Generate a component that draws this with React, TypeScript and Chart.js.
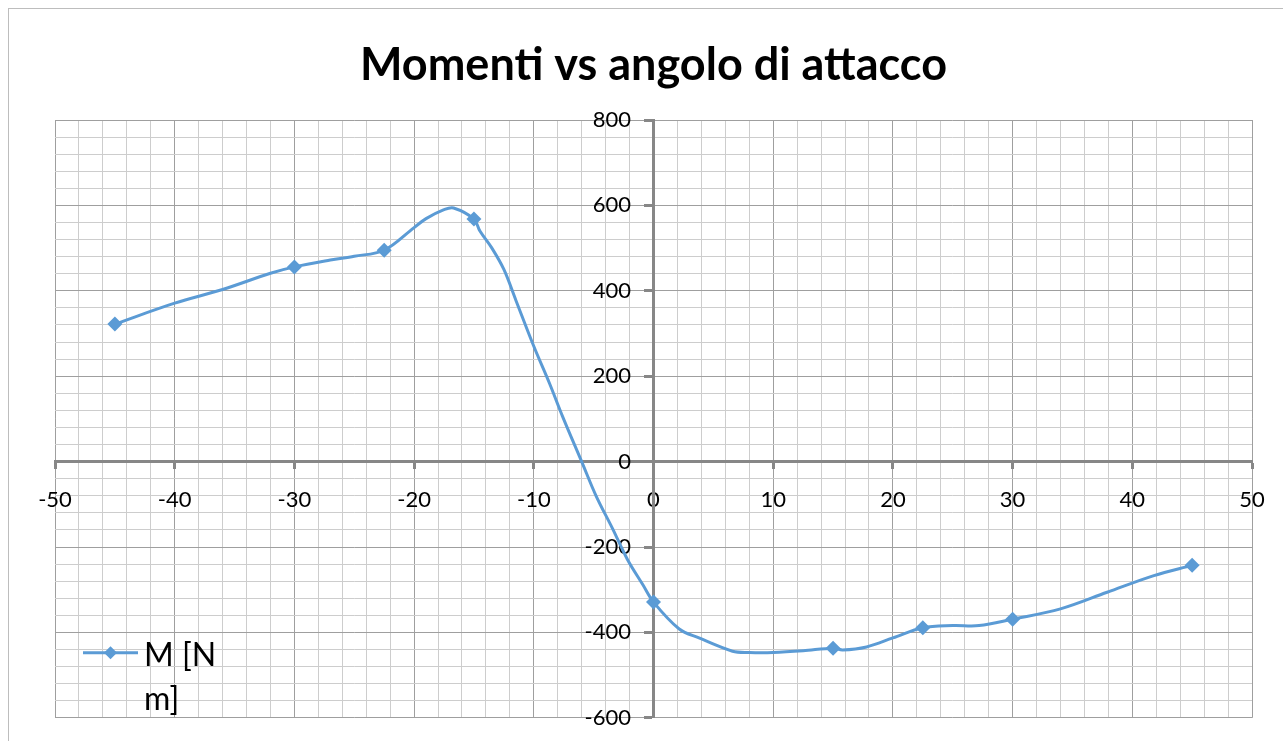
import React, { useEffect, useRef } from "react";
import { Chart, registerables } from "chart.js";

Chart.register(...registerables);

const TITLE = "Momenti vs angolo di attacco";
const SERIES_LABEL = "M [N m]";

// Marked data points (angle of attack [deg], moment [N m])
const markerAngles = [-45, -30, -22.5, -15, 0, 15, 22.5, 30, 45];
const markerMoments = [322, 456, 495, 568, -329, -437, -389, -369, -243];

// Unmarked points along the drawn curve
const curveAngles = [
  -40, -36, -32, -27, -25, -20, -19, -17.5, -16.7, -14.5, -13.5, -12.5, -11.5, -10, -8.7, -7.6,
  -6, -4.8, -3.4, -2.2, -0.9, 2.15, 3.8, 6.6, 8, 10, 12.5, 15.8, 17.8, 20, 25, 27.2, 34, 37.9, 41.8,
];
const curveMoments = [
  371, 403, 441, 472, 481, 548, 569, 590, 594, 540, 500, 450, 378, 270, 184, 106,
  0, -80, -158, -228, -288, -392, -413, -444, -447, -447, -443, -441, -434, -413, -384, -384, -345, -306, -267,
];

const xMin = -50;
const xMax = 50;
const xMajor = 10;
const xMinor = 2;
const yMin = -600;
const yMax = 800;
const yMajor = 200;
const yMinor = 40;

const FONT = "Lato, 'Open Sans', sans-serif";
const LINE_COLOR = "#5B9BD5";
const AXIS_COLOR = "#878787";
const MAJOR_GRID = "#9f9f9f";
const MINOR_GRID = "#cdcdcd";

const isMajor = (v: number, step: number) => Math.abs(v / step - Math.round(v / step)) < 1e-6;

const legendPlugin = {
  id: "wrapLegend",
  afterDatasetsDraw(chart: any) {
    const ctx: CanvasRenderingContext2D = chart.ctx;
    const area = chart.chartArea;
    const ds = chart.data.datasets[0];
    const lx0 = area.left + 28;
    const lx1 = area.left + 83;
    const ly = area.bottom - 65;
    ctx.save();
    ctx.strokeStyle = ds.borderColor;
    ctx.lineWidth = 3;
    ctx.beginPath();
    ctx.moveTo(lx0, ly);
    ctx.lineTo(lx1, ly);
    ctx.stroke();
    const mx = (lx0 + lx1) / 2;
    const r = 6.5;
    ctx.fillStyle = ds.backgroundColor;
    ctx.beginPath();
    ctx.moveTo(mx, ly - r);
    ctx.lineTo(mx + r, ly);
    ctx.lineTo(mx, ly + r);
    ctx.lineTo(mx - r, ly);
    ctx.closePath();
    ctx.fill();
    ctx.font = `32px ${FONT}`;
    ctx.fillStyle = "#000";
    ctx.textBaseline = "alphabetic";
    ctx.textAlign = "left";
    // wrap the label into the legend's width
    const words = String(ds.label).split(" ");
    const lines: string[] = [];
    let cur = "";
    for (const w of words) {
      const t = cur ? cur + " " + w : w;
      if (cur && ctx.measureText(t).width > 90) {
        lines.push(cur);
        cur = w;
      } else cur = t;
    }
    if (cur) lines.push(cur);
    const tx = lx1 + 6;
    let ty = ly + 13;
    for (const l of lines) {
      ctx.fillText(l, tx, ty);
      ty += 44;
    }
    ctx.restore();
  },
};

export default function App() {
  const ref = useRef<HTMLCanvasElement>(null);
  useEffect(() => {
    if (!ref.current) return;
    const pts = [
      ...markerAngles.map((x, i) => ({ x, y: markerMoments[i], m: true })),
      ...curveAngles.map((x, i) => ({ x, y: curveMoments[i], m: false })),
    ].sort((a, b) => a.x - b.x);
    const radii = pts.map((p) => (p.m ? 7.5 : 0));
    const chart = new Chart(ref.current, {
      type: "scatter",
      data: {
        datasets: [
          {
            label: SERIES_LABEL,
            data: pts.map((p) => ({ x: p.x, y: p.y })),
            showLine: true,
            borderColor: LINE_COLOR,
            backgroundColor: LINE_COLOR,
            borderWidth: 3,
            tension: 0.35,
            pointStyle: "rectRot",
            pointRadius: radii,
            pointHoverRadius: radii,
            pointBorderWidth: 0,
          } as any,
        ],
      },
      options: {
        responsive: false,
        animation: false,
        events: [],
        layout: { padding: { left: 46, right: 43, top: 0, bottom: 31 } },
        plugins: {
          legend: { display: false },
          tooltip: { enabled: false },
          title: {
            display: true,
            text: TITLE,
            color: "#000",
            font: { family: FONT, size: 45, weight: "bold" },
            padding: { top: 29, bottom: 28 },
          },
        },
        scales: {
          x: {
            type: "linear",
            position: { y: 0 } as any,
            min: xMin,
            max: xMax,
            afterFit: (s: any) => {
              s.height = 0;
            },
            ticks: {
              stepSize: xMinor,
              maxTicksLimit: 200,
              autoSkip: false,
              maxRotation: 0,
              minRotation: 0,
              padding: 19,
              color: "#000",
              font: { family: FONT, size: 22 },
              callback: (v: any) => (isMajor(Number(v), xMajor) ? String(v) : ""),
            },
            grid: {
              color: (c: any) => (c.tick && isMajor(c.tick.value, xMajor) ? MAJOR_GRID : MINOR_GRID),
              tickColor: (c: any) => (c.tick && isMajor(c.tick.value, xMajor) ? AXIS_COLOR : "rgba(0,0,0,0)"),
              lineWidth: 1,
              tickWidth: 3,
              tickLength: 6,
            },
            border: { color: AXIS_COLOR, width: 3 },
          },
          y: {
            type: "linear",
            position: { x: 0 } as any,
            min: yMin,
            max: yMax,
            afterFit: (s: any) => {
              s.width = 0;
            },
            ticks: {
              stepSize: yMinor,
              maxTicksLimit: 200,
              autoSkip: false,
              padding: 18,
              color: "#000",
              font: { family: FONT, size: 22 },
              // trailing gap keeps the right-aligned labels clear of the axis line
              callback: (v: any) => (isMajor(Number(v), yMajor) ? String(v) + "    " : ""),
            },
            grid: {
              color: (c: any) => (c.tick && isMajor(c.tick.value, yMajor) ? MAJOR_GRID : MINOR_GRID),
              tickColor: (c: any) => (c.tick && isMajor(c.tick.value, yMajor) ? AXIS_COLOR : "rgba(0,0,0,0)"),
              lineWidth: 1,
              tickWidth: 3,
              tickLength: 8,
            },
            border: { color: AXIS_COLOR, width: 3 },
          },
        },
      },
      plugins: [legendPlugin],
    });
    return () => chart.destroy();
  }, []);

  return (
    <div
      style={{
        position: "fixed",
        left: 0,
        top: 0,
        width: 1283,
        height: 741,
        overflow: "hidden",
        background: "#fff",
      }}
    >
      <div
        style={{
          position: "absolute",
          left: 8,
          top: 8,
          width: 1287,
          height: 745,
          borderLeft: "1px solid #bdbdbd",
          borderTop: "1px solid #bdbdbd",
        }}
      >
        <canvas ref={ref} width={1286} height={740} style={{ display: "block" }} />
      </div>
    </div>
  );
}
